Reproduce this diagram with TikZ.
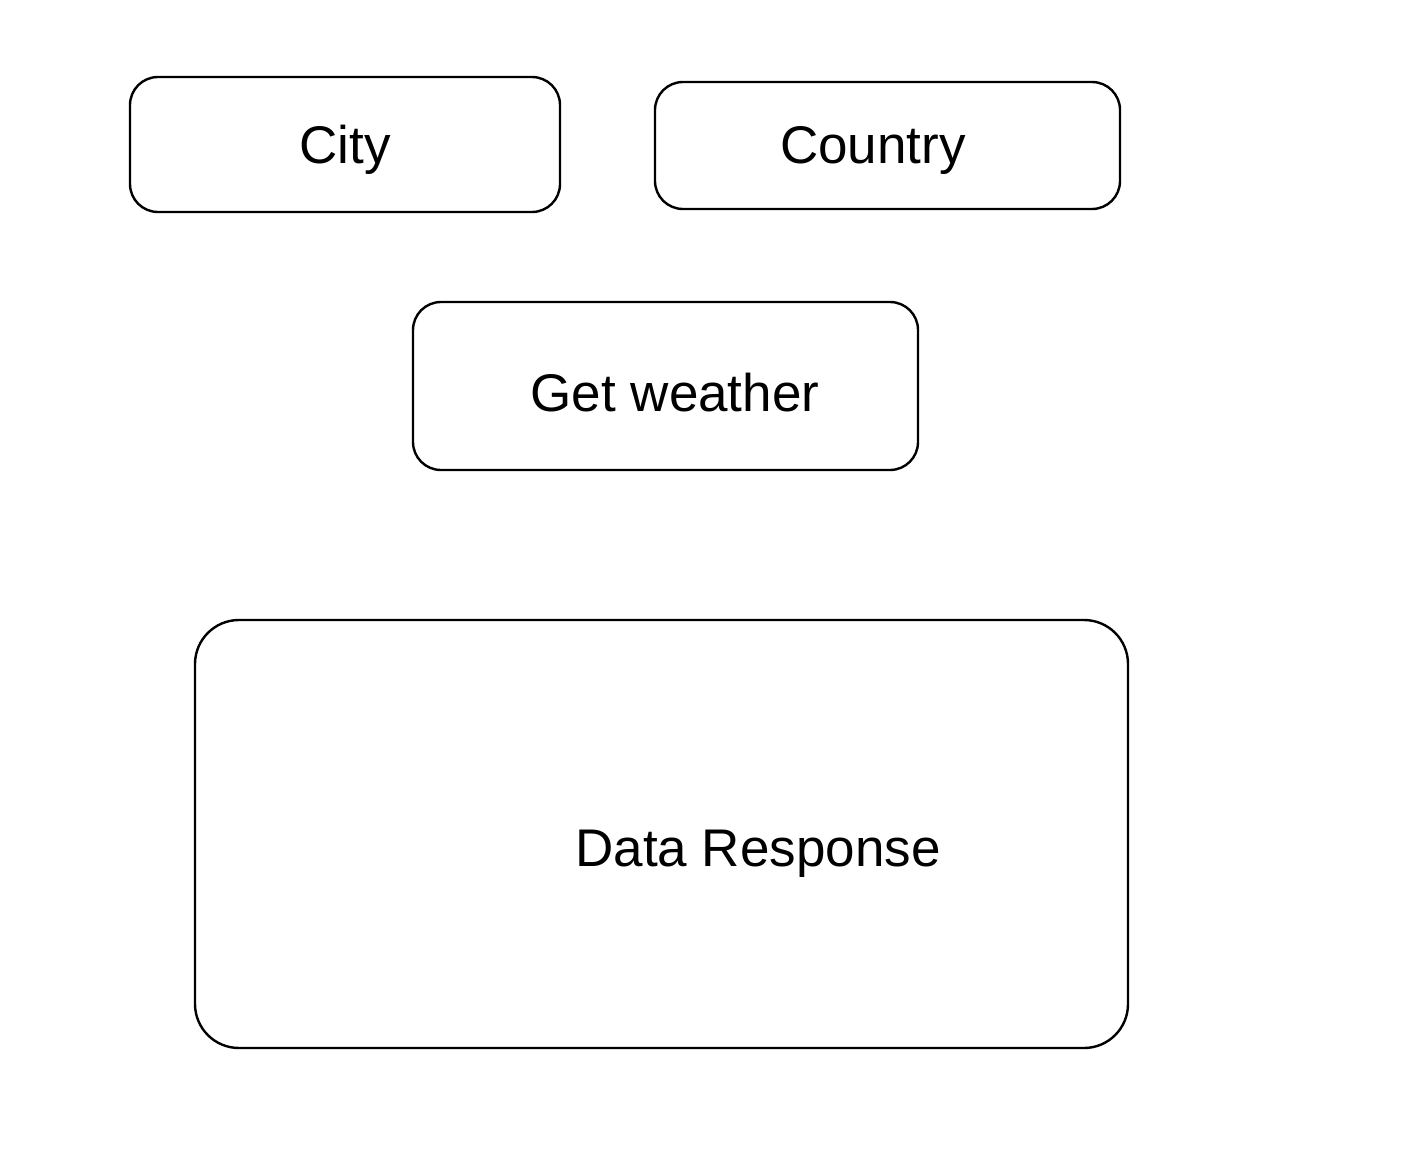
\documentclass[tikz,border=0pt]{standalone}
\usepackage{fontspec}
\setmainfont{Liberation Sans}
\begin{document}
\begin{tikzpicture}[x=0.5pt,y=-0.5pt,
  box/.style={draw=black,line width=1.2pt,rounded corners=14pt,inner sep=0pt},
  lbl/.style={font=\fontsize{26.5}{30}\selectfont,inner sep=0pt}]
\useasboundingbox (0,0) rectangle (1402,1156);
\node[box,minimum width=215pt,minimum height=67.5pt] (city) at (345,144.5) {};
\node[box,minimum width=232.5pt,minimum height=63.5pt] (country) at (887.5,145.5) {};
\node[box,minimum width=252.5pt,minimum height=84pt] (get) at (665.5,386) {};
\node[box,minimum width=466.5pt,minimum height=214pt,rounded corners=22pt] (data) at (661.5,834) {};
\node[lbl] (tcity) at (345,150) {City};
\node[lbl] (tcountry) at (873,150) {Country};
\node[lbl] (tget) at (675,393) {Get weather};
\node[lbl] (tdata) at (758,854) {Data Response};
\end{tikzpicture}
\end{document}
